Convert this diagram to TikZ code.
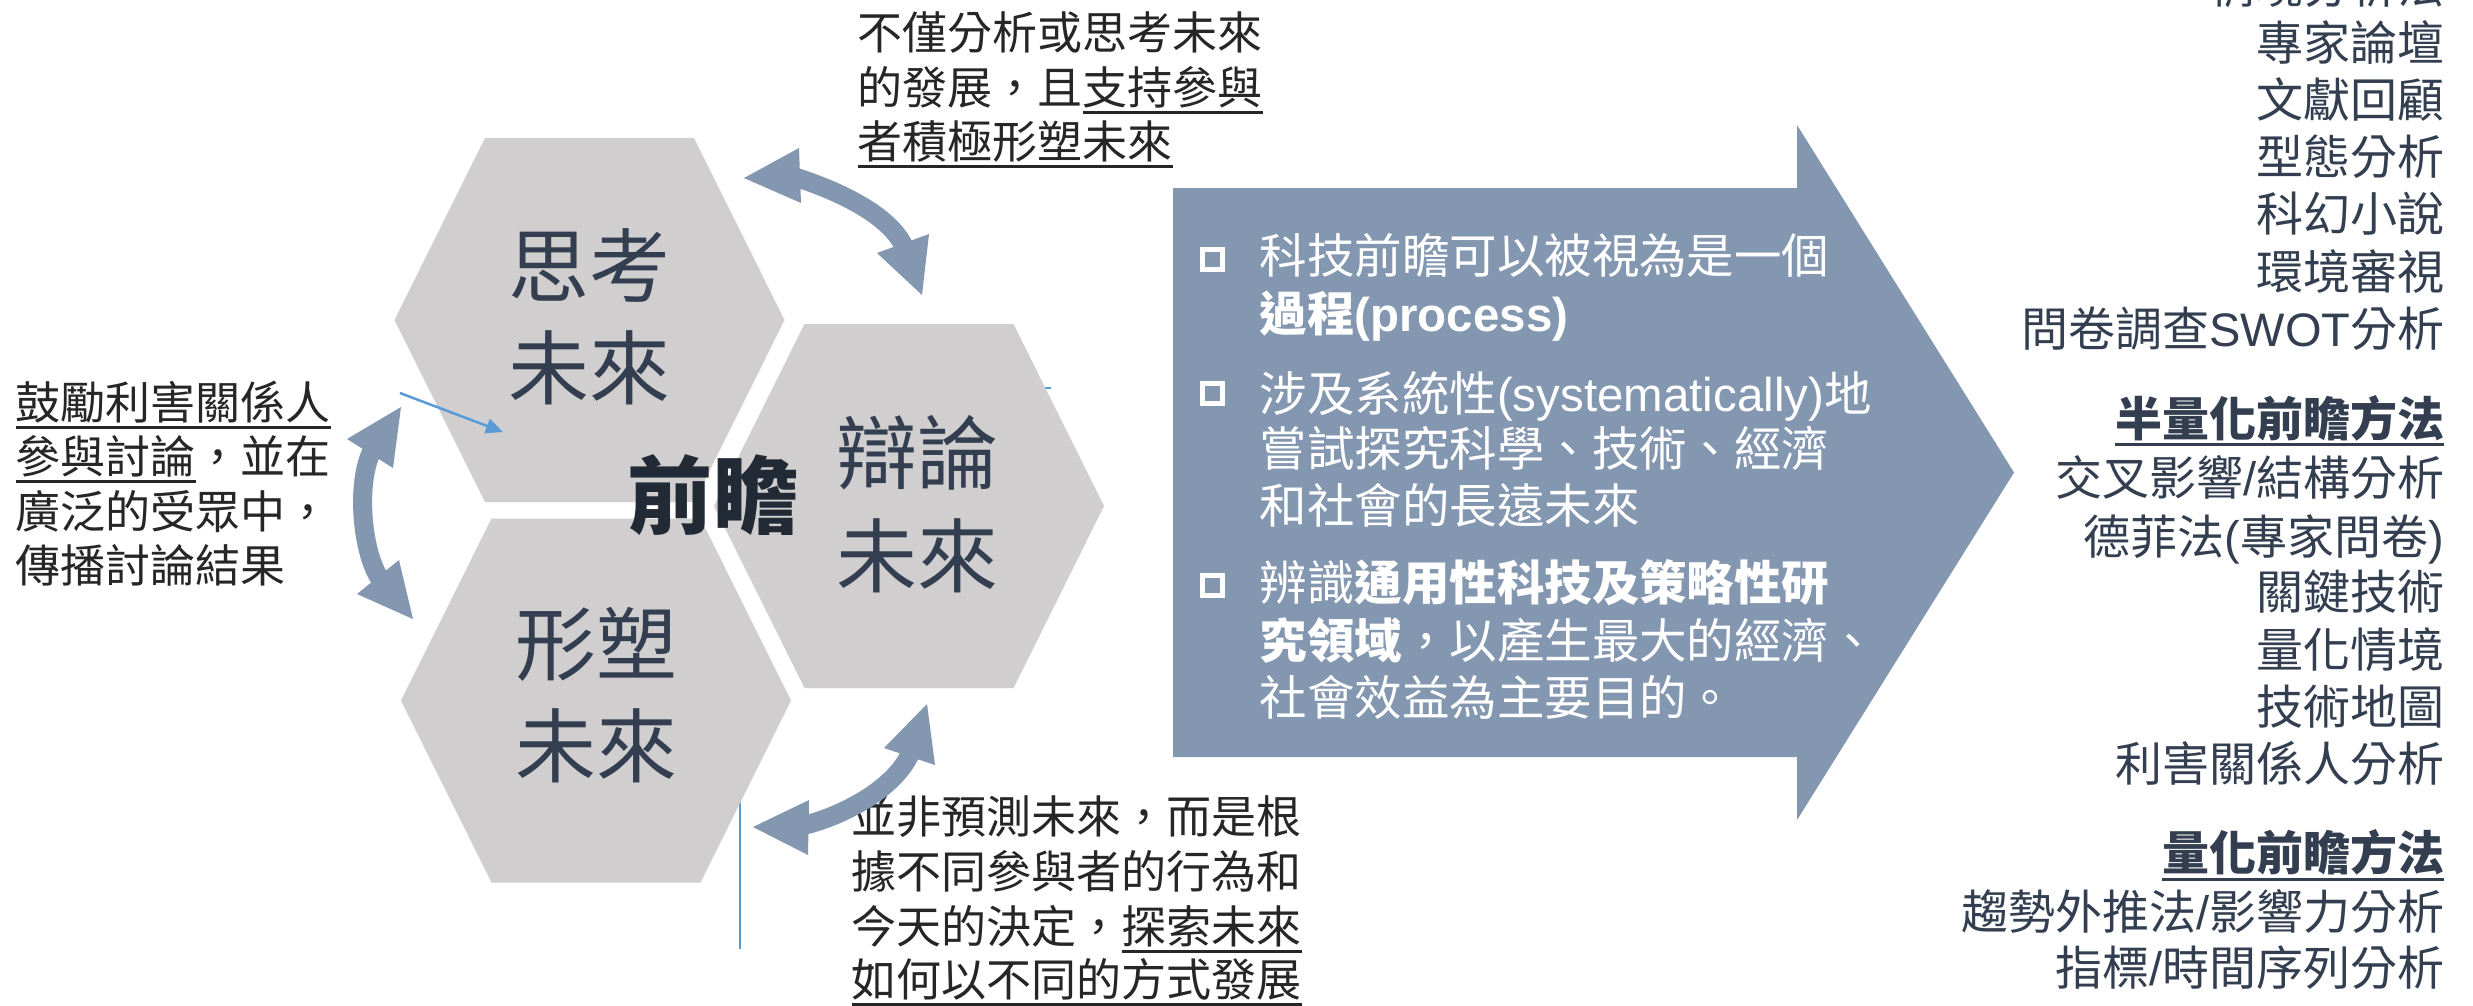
\documentclass[tikz,border=0pt]{standalone}
\usepackage{fontspec}
\setmainfont{Noto Sans CJK TC}
\newfontfamily\lat{Liberation Sans}
\usetikzlibrary{arrows.meta}
\definecolor{hexgray}{HTML}{D0CECE}
\definecolor{hexink}{HTML}{333F50}
\definecolor{coreink}{HTML}{222A35}
\definecolor{arrowc}{HTML}{8497B0}
\definecolor{thinblue}{HTML}{5B9BD5}
\definecolor{sideink}{HTML}{262626}
\definecolor{rightink}{HTML}{333F50}
\newsavebox\ulbox
\newcommand\uln[1]{\sbox\ulbox{#1}\rlap{\rule[-0.22em]{\wd\ulbox}{0.065em}}\usebox\ulbox}
\begin{document}
\begin{tikzpicture}[x=0.01cm,y=-0.01cm,
  hexa/.pic={\fill[hexgray] (-104.5,-182) -- (104.5,-182) -- (195,0) -- (104.5,182) -- (-104.5,182) -- (-195,0) -- cycle;},
  sidetxt/.style={font=\fontsize{12.8pt}{15pt}\selectfont, text=sideink, inner sep=0, anchor=base west},
  arrtxt/.style={font=\fontsize{13.5pt}{16pt}\selectfont, text=white, inner sep=0, anchor=base west},
  rtxt/.style={font=\fontsize{13.37pt}{16pt}\selectfont, text=rightink, inner sep=0, anchor=base east},
  hextxt/.style={font=\fontsize{23pt}{28pt}\selectfont, text=hexink, inner sep=0, anchor=base},
  coretxt/.style={font=\fontsize{24.2pt}{29pt}\selectfont\bfseries, text=coreink, inner sep=0, anchor=base},
  bulletsq/.style={draw=white, line width=0.05cm, minimum size=0.2cm, inner sep=0},
  shaft/.style={draw=arrowc, line width=0.19cm},
  headfill/.style={fill=arrowc},
  bluelink/.style={draw=thinblue, line width=0.025cm}
]
\fill[white] (0,0) rectangle (2473,1005);
\useasboundingbox (0,0) rectangle (2473,1005);

% thin blue lines partly hidden behind the hexagons
\coordinate (bv1) at (740,760); \coordinate (bv2) at (740,949);
\draw[bluelink] (bv1) -- (bv2);
\coordinate (bh1) at (1000,388); \coordinate (bh2) at (1051,388);
\draw[bluelink] (bh1) -- (bh2);

% hexagons
\pic at (589.5,320) {hexa};
\pic at (909,506) {hexa};
\pic at (596,700.5) {hexa};

% hexagon texts
\node[hextxt] (h1a) at (589,296) {思考};
\node[hextxt] (h1b) at (589,398) {未來};
\node[hextxt] (h2a) at (917,483) {辯論};
\node[hextxt] (h2b) at (917,586) {未來};
\node[hextxt] (h3a) at (596,674.5) {形塑};
\node[hextxt] (h3b) at (596,776) {未來};
\node[coretxt] (core) at (713,527) {前瞻};

% thin blue arrow
\coordinate (bl1) at (400,393); \coordinate (bl2) at (503,432);
\draw[bluelink, -{Triangle[length=0.17cm,width=0.15cm]}] (bl1) -- (bl2);

% big right arrow
\fill[arrowc] (1173,188) -- (1797,188) -- (1797,125) -- (2014,472.5) -- (1797,820) -- (1797,757) -- (1173,757) -- cycle;

% bullets
\node[bulletsq] (q1) at (1212.5,259) {};
\node[bulletsq] (q2) at (1212.5,393) {};
\node[bulletsq] (q3) at (1212.5,585) {};

% arrow texts
\node[arrtxt] (a1) at (1259,273) {科技前瞻可以被視為是一個};
\node[arrtxt] (a2) at (1259,331) {\bfseries 過程{\lat\bfseries (process)}};
\node[arrtxt] (a3) at (1259,411) {涉及系統性{\lat (systematically)}地};
\node[arrtxt] (a4) at (1259,466) {嘗試探究科學、技術、經濟};
\node[arrtxt] (a5) at (1259,523) {和社會的長遠未來};
\node[arrtxt] (a6) at (1259,600) {辨識{\bfseries 通用性科技及策略性研}};
\node[arrtxt] (a7) at (1259,658) {{\bfseries 究領域}，以產生最大的經濟、};
\node[arrtxt] (a8) at (1259,715) {社會效益為主要目的。};

% top text
\node[sidetxt] (t1) at (857,49.5) {不僅分析或思考未來};
\node[sidetxt] (t2) at (857,104.5) {的發展，且\uln{支持參與}};
\node[sidetxt] (t3) at (857,158.5) {\uln{者積極形塑未來}};

% left text
\node[sidetxt] (l1) at (15,419.5) {\uln{鼓勵利害關係人}};
\node[sidetxt] (l2) at (15,473) {\uln{參與討論}，並在};
\node[sidetxt] (l3) at (15,528) {廣泛的受眾中，};
\node[sidetxt] (l4) at (15,582) {傳播討論結果};

% bottom text
\node[sidetxt] (b1) at (851,833) {並非預測未來，而是根};
\node[sidetxt] (b2) at (851,888) {據不同參與者的行為和};
\node[sidetxt] (b3) at (851,943) {今天的決定，\uln{探索未來}};
\node[sidetxt] (b4) at (851,996) {\uln{如何以不同的方式發展}};

% right column
\node[rtxt] (r0) at (2445,3.5) {情境分析法};
\node[rtxt] (r1) at (2445,60.5) {專家論壇};
\node[rtxt] (r2) at (2445,117) {文獻回顧};
\node[rtxt] (r3) at (2445,174) {型態分析};
\node[rtxt] (r4) at (2445,231) {科幻小說};
\node[rtxt] (r5) at (2445,289) {環境審視};
\node[rtxt] (r6) at (2445,346) {問卷調查{\lat SWOT}分析};
\node[rtxt] (r7) at (2445,436) {\uln{\bfseries 半量化前瞻方法}};
\node[rtxt] (r8) at (2445,495) {交叉影響{\lat /}結構分析};
\node[rtxt] (r9) at (2445,554) {德菲法{\lat (}專家問卷{\lat )}};
\node[rtxt] (r10) at (2445,609.5) {關鍵技術};
\node[rtxt] (r11) at (2445,667) {量化情境};
\node[rtxt] (r12) at (2445,724) {技術地圖};
\node[rtxt] (r13) at (2445,781) {利害關係人分析};
\node[rtxt] (r14) at (2445,870.5) {\uln{\bfseries 量化前瞻方法}};
\node[rtxt] (r15) at (2445,929) {趨勢外推法{\lat /}影響力分析};
\node[rtxt] (r16) at (2445,985.5) {指標{\lat /}時間序列分析};

% curved double arrows
% top
\coordinate (u1) at (744,178); \coordinate (u1a) at (799,148); \coordinate (u1b) at (801,203);
\coordinate (u2) at (922,295); \coordinate (u2a) at (877,253); \coordinate (u2b) at (929,234);
\coordinate (u1s) at (792,176); \coordinate (u2s) at (906,251);
\draw[shaft] (u1s) .. controls (830,188) and (892,213) .. (u2s);
\fill[headfill] (u1) -- (u1a) -- (u1b) -- cycle;
\fill[headfill] (u2) -- (u2a) -- (u2b) -- cycle;
% left
\coordinate (v1) at (401,407); \coordinate (v1a) at (347,439); \coordinate (v1b) at (393,468);
\coordinate (v2) at (413,619); \coordinate (v2a) at (357,594); \coordinate (v2b) at (399,560);
\coordinate (v1s) at (374.4,446.9); \coordinate (v2s) at (383,583);
\draw[shaft] (v1s) .. controls (355,476) and (360.6,556) .. (v2s);
\fill[headfill] (v1) -- (v1a) -- (v1b) -- cycle;
\fill[headfill] (v2) -- (v2a) -- (v2b) -- cycle;
% bottom
\coordinate (w1) at (753,827); \coordinate (w1a) at (809,800); \coordinate (w1b) at (808,855);
\coordinate (w2) at (927,704); \coordinate (w2a) at (884,748); \coordinate (w2b) at (935,765);
\coordinate (w1s) at (800.5,826); \coordinate (w2s) at (912,749);
\draw[shaft] (w1s) .. controls (837.4,818.4) and (898,789) .. (w2s);
\fill[headfill] (w1) -- (w1a) -- (w1b) -- cycle;
\fill[headfill] (w2) -- (w2a) -- (w2b) -- cycle;
\end{tikzpicture}
\end{document}
